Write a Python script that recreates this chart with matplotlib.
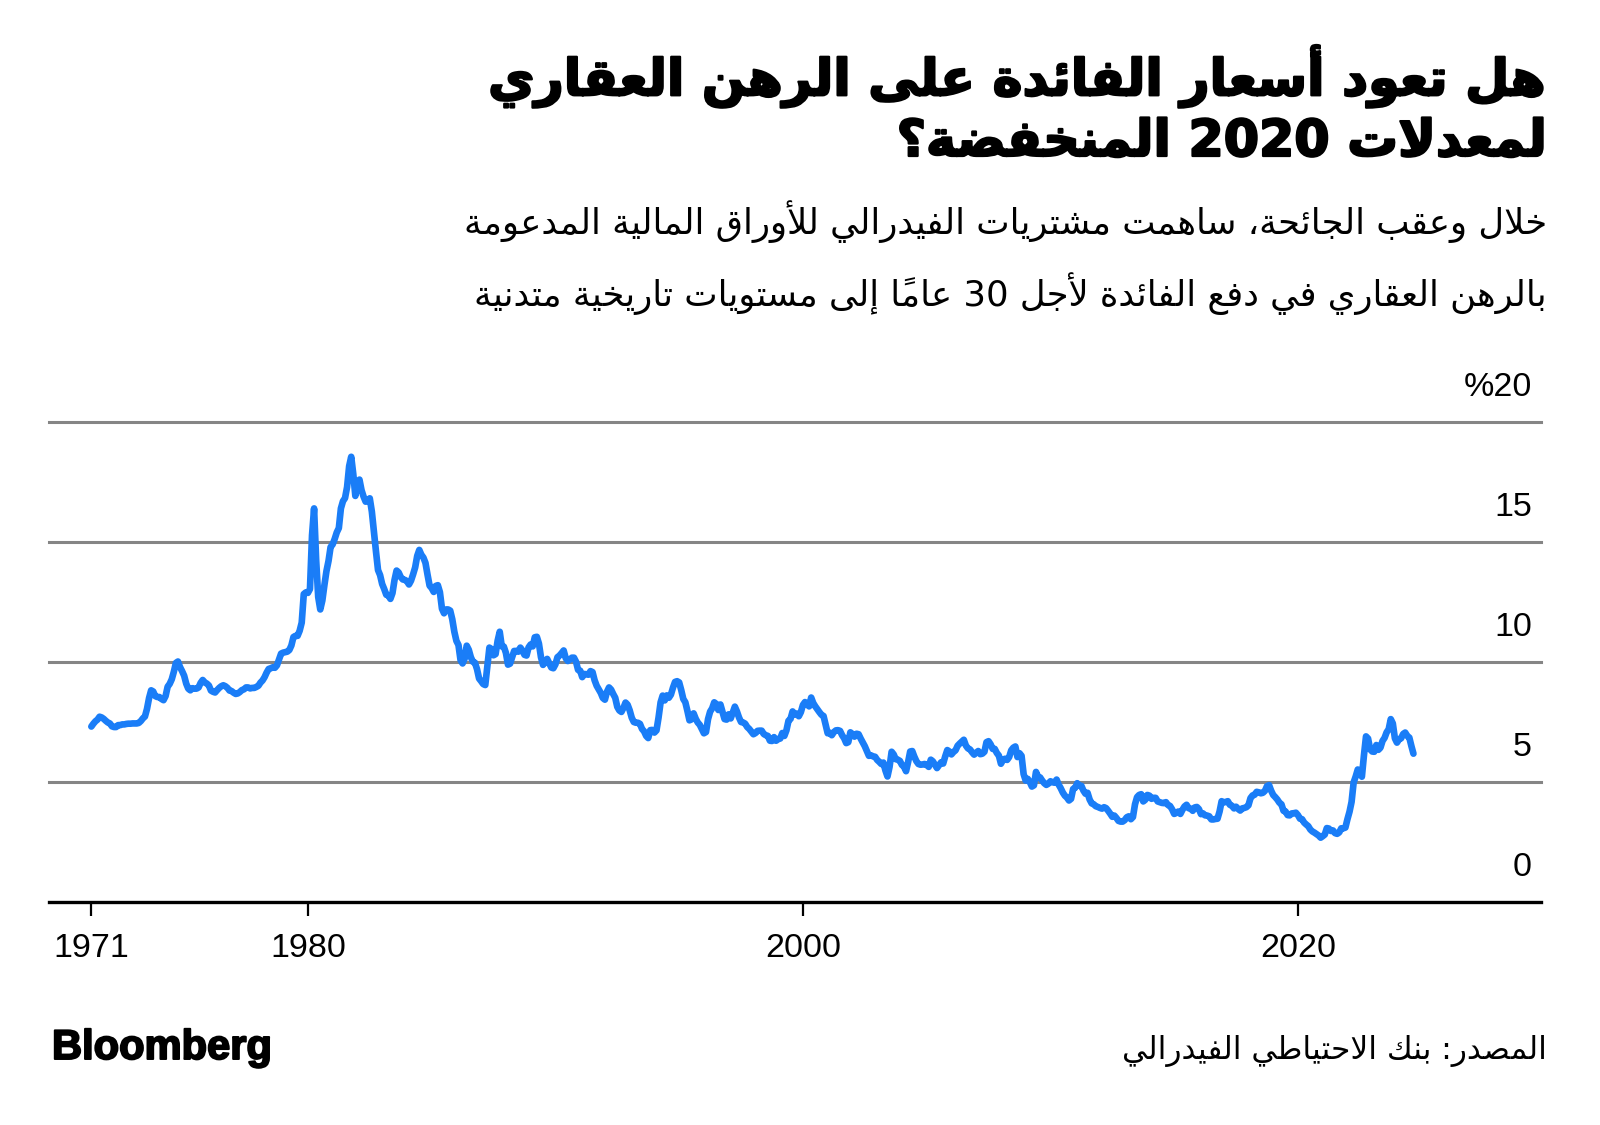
import pandas as pd
import matplotlib
matplotlib.use('Agg')
import matplotlib.pyplot as plt
import matplotlib.transforms as mtransforms
import matplotlib.patheffects as pe

# --- text -----------------------------------------------------------------
title_lines = ['هل تعود أسعار الفائدة على الرهن العقاري',
               'لمعدلات 2020 المنخفضة؟']
subtitle_lines = ['خلال وعقب الجائحة، ساهمت مشتريات الفيدرالي للأوراق المالية المدعومة',
                  'بالرهن العقاري في دفع الفائدة لأجل 30 عاماً إلى مستويات تاريخية متدنية']
source_text = 'المصدر: بنك الاحتياطي الفيدرالي'

# --- data: 30-year mortgage rate, monthly average, % (Apr 1971 - Sep 2024) ---
start_month = '1971-04-01'
rates_1970s = [7.31, 7.43, 7.53, 7.60, 7.72, 7.69, 7.63, 7.55, 7.48,
               7.44, 7.32, 7.29, 7.29, 7.37, 7.37, 7.40, 7.40, 7.42, 7.43, 7.43, 7.44,
               7.44, 7.44, 7.46, 7.54, 7.65, 7.73, 8.05, 8.50, 8.82, 8.77, 8.58, 8.54,
               8.54, 8.46, 8.41, 8.58, 8.97, 9.09, 9.28, 9.59, 9.96, 10.02, 9.79, 9.62,
               9.43, 9.10, 8.89, 8.82, 8.91, 8.89, 8.89, 8.94, 9.13, 9.25, 9.15, 9.10,
               9.02, 8.81, 8.76, 8.73, 8.83, 8.92, 8.99, 9.03, 8.99, 8.92, 8.81, 8.79,
               8.72, 8.67, 8.69, 8.75, 8.83, 8.86, 8.94, 8.94, 8.90, 8.92, 8.92, 8.96,
               9.01, 9.14, 9.23, 9.37, 9.56, 9.71, 9.74, 9.78, 9.76, 9.86, 10.11, 10.35,
               10.39, 10.41, 10.43, 10.50, 10.69, 11.04, 11.09, 11.09, 11.30, 11.64, 12.83, 12.90]
rates_1980s = [12.88, 13.04, 15.28, 16.40, 14.26, 12.71, 12.19, 12.56, 13.20, 13.79, 14.21, 14.79,
               14.90, 15.13, 15.40, 15.58, 16.40, 16.70, 16.83, 17.29, 18.16, 18.55, 17.83, 16.92,
               17.40, 17.60, 17.16, 16.89, 16.68, 16.70, 16.82, 16.27, 15.43, 14.61, 13.83, 13.62,
               13.25, 13.04, 12.80, 12.78, 12.63, 12.87, 13.42, 13.81, 13.73, 13.54, 13.44, 13.42,
               13.37, 13.23, 13.39, 13.65, 13.94, 14.42, 14.67, 14.47, 14.35, 14.13, 13.64, 13.18,
               13.08, 12.92, 13.17, 13.20, 12.91, 12.22, 12.03, 12.19, 12.19, 12.14, 11.78, 11.26,
               10.88, 10.71, 10.08, 9.94, 10.14, 10.68, 10.51, 10.20, 10.01, 9.97, 9.70, 9.31,
               9.20, 9.08, 9.04, 9.83, 10.60, 10.54, 10.28, 10.33, 10.89, 11.26, 10.65, 10.64,
               10.38, 9.89, 9.93, 10.20, 10.46, 10.46, 10.43, 10.60, 10.48, 10.30, 10.27, 10.61,
               10.73, 10.65, 11.03, 11.05, 10.77, 10.20, 9.88, 9.99, 10.13, 9.95, 9.77, 9.74]
rates_1990s = [9.90, 10.20, 10.27, 10.37, 10.48, 10.16, 10.04, 10.10, 10.18, 10.18, 10.01, 9.67,
               9.64, 9.37, 9.50, 9.49, 9.47, 9.62, 9.58, 9.24, 9.01, 8.86, 8.71, 8.50,
               8.43, 8.76, 8.94, 8.85, 8.67, 8.51, 8.13, 7.98, 7.92, 8.09, 8.31, 8.22,
               7.99, 7.68, 7.50, 7.47, 7.47, 7.42, 7.21, 7.11, 6.92, 6.83, 7.16, 7.17,
               7.06, 7.15, 7.68, 8.32, 8.60, 8.40, 8.61, 8.51, 8.64, 8.93, 9.17, 9.20,
               9.15, 8.83, 8.46, 8.32, 7.96, 7.57, 7.61, 7.86, 7.64, 7.48, 7.38, 7.20,
               7.03, 7.08, 7.62, 7.93, 8.07, 8.32, 8.25, 8.00, 8.23, 7.92, 7.62, 7.60,
               7.82, 7.65, 7.90, 8.14, 7.94, 7.69, 7.50, 7.48, 7.43, 7.29, 7.21, 7.10,
               6.99, 7.04, 7.13, 7.14, 7.14, 7.00, 6.95, 6.92, 6.72, 6.71, 6.87, 6.72,
               6.79, 6.81, 7.04, 6.92, 7.15, 7.55, 7.63, 7.94, 7.82, 7.85, 7.74, 7.91]
rates_2000s = [8.21, 8.33, 8.24, 8.15, 8.52, 8.29, 8.15, 8.03, 7.91, 7.80, 7.75, 7.38,
               7.03, 7.05, 6.95, 7.08, 7.15, 7.16, 7.13, 6.95, 6.82, 6.62, 6.66, 7.07,
               7.00, 6.89, 7.01, 6.99, 6.81, 6.65, 6.49, 6.29, 6.09, 6.11, 6.07, 6.05,
               5.92, 5.84, 5.75, 5.81, 5.48, 5.23, 5.63, 6.26, 6.15, 5.95, 5.93, 5.88,
               5.71, 5.64, 5.45, 5.83, 6.27, 6.29, 6.06, 5.87, 5.75, 5.72, 5.73, 5.75,
               5.71, 5.63, 5.93, 5.86, 5.72, 5.58, 5.70, 5.82, 5.77, 6.07, 6.33, 6.27,
               6.15, 6.25, 6.32, 6.51, 6.60, 6.68, 6.76, 6.52, 6.40, 6.36, 6.24, 6.14,
               6.22, 6.29, 6.16, 6.18, 6.26, 6.66, 6.70, 6.57, 6.38, 6.38, 6.21, 6.10,
               5.76, 5.92, 5.97, 5.92, 6.04, 6.32, 6.43, 6.48, 6.04, 6.20, 6.09, 5.33,
               5.06, 5.13, 5.00, 4.81, 4.86, 5.42, 5.22, 5.19, 5.06, 4.95, 4.88, 4.93]
rates_2010s = [5.03, 4.99, 4.97, 5.10, 4.89, 4.74, 4.56, 4.43, 4.35, 4.23, 4.30, 4.71,
               4.76, 4.95, 4.84, 4.84, 4.64, 4.51, 4.55, 4.27, 4.11, 4.07, 3.99, 3.96,
               3.92, 3.89, 3.95, 3.91, 3.80, 3.68, 3.55, 3.60, 3.50, 3.38, 3.35, 3.35,
               3.41, 3.53, 3.57, 3.45, 3.54, 4.07, 4.37, 4.46, 4.49, 4.19, 4.26, 4.46,
               4.43, 4.30, 4.34, 4.34, 4.19, 4.16, 4.13, 4.12, 4.16, 4.04, 4.00, 3.86,
               3.67, 3.71, 3.77, 3.67, 3.84, 3.98, 4.05, 3.91, 3.89, 3.80, 3.94, 3.96,
               3.87, 3.66, 3.69, 3.61, 3.60, 3.57, 3.44, 3.44, 3.46, 3.47, 3.77, 4.20,
               4.15, 4.17, 4.20, 4.05, 4.01, 3.90, 3.97, 3.88, 3.81, 3.90, 3.92, 3.95,
               4.03, 4.33, 4.44, 4.47, 4.59, 4.57, 4.53, 4.55, 4.63, 4.83, 4.87, 4.64,
               4.46, 4.37, 4.27, 4.14, 4.07, 3.80, 3.77, 3.62, 3.61, 3.69, 3.70, 3.72]
rates_2020s = [3.62, 3.47, 3.45, 3.31, 3.23, 3.16, 3.02, 2.94, 2.89, 2.83, 2.77, 2.68,
               2.74, 2.81, 3.08, 3.06, 2.96, 2.98, 2.87, 2.84, 2.90, 3.07, 3.07, 3.10,
               3.45, 3.76, 4.17, 4.98, 5.23, 5.52, 5.41, 5.22, 6.11, 6.90, 6.81, 6.36,
               6.27, 6.26, 6.54, 6.34, 6.43, 6.71, 6.84, 7.07, 7.20, 7.62, 7.44, 6.82,
               6.64, 6.78, 6.82, 7.00, 7.06, 6.92, 6.85, 6.50, 6.18]

x_ticks = [1971.25, 1980, 2000, 2020]
x_tick_labels = ['1971', '1980', '2000', '2020']
y_ticks = [0, 5, 10, 15, 20]
y_tick_labels = ['0', '5', '10', '15', '%20']

# --- minimal Arabic shaping (presentation forms) + right-to-left ordering ---
FORMS = {'ء': (0xFE80, 1), 'آ': (0xFE81, 2), 'أ': (0xFE83, 2), 'ؤ': (0xFE85, 2),
         'إ': (0xFE87, 2), 'ئ': (0xFE89, 4), 'ا': (0xFE8D, 2), 'ب': (0xFE8F, 4),
         'ة': (0xFE93, 2), 'ت': (0xFE95, 4), 'ث': (0xFE99, 4), 'ج': (0xFE9D, 4),
         'ح': (0xFEA1, 4), 'خ': (0xFEA5, 4), 'د': (0xFEA9, 2), 'ذ': (0xFEAB, 2),
         'ر': (0xFEAD, 2), 'ز': (0xFEAF, 2), 'س': (0xFEB1, 4), 'ش': (0xFEB5, 4),
         'ص': (0xFEB9, 4), 'ض': (0xFEBD, 4), 'ط': (0xFEC1, 4), 'ظ': (0xFEC5, 4),
         'ع': (0xFEC9, 4), 'غ': (0xFECD, 4), 'ف': (0xFED1, 4), 'ق': (0xFED5, 4),
         'ك': (0xFED9, 4), 'ل': (0xFEDD, 4), 'م': (0xFEE1, 4), 'ن': (0xFEE5, 4),
         'ه': (0xFEE9, 4), 'و': (0xFEED, 2), 'ى': (0xFEEF, 2), 'ي': (0xFEF1, 4)}
LAM_ALEF = {'آ': 0xFEF5, 'أ': 0xFEF7, 'إ': 0xFEF9, 'ا': 0xFEFB}
MARKS = {chr(c) for c in range(0x064B, 0x0653)}


def joins_next(u):
    return u[0] != 'lig' and u[0] in FORMS and FORMS[u[0]][1] == 4


def joins_prev(u):
    return u[0] == 'lig' or (u[0] in FORMS and FORMS[u[0]][1] >= 2)


def rtl(text):
    units = []
    i = 0
    while i < len(text):
        ch = text[i]
        if ch in MARKS and units:
            units[-1][2] += ch
        elif ch == 'ل' and i + 1 < len(text) and text[i + 1] in LAM_ALEF:
            units.append(['lig', LAM_ALEF[text[i + 1]], ''])
            i += 1
        else:
            units.append([ch, None, ''])
        i += 1

    clusters = []
    for k, u in enumerate(units):
        prev_ok = k > 0 and joins_next(units[k - 1]) and joins_prev(u)
        next_ok = k + 1 < len(units) and joins_next(u) and joins_prev(units[k + 1])
        if u[0] == 'lig':
            g = chr(u[1] + (1 if prev_ok else 0))
        elif u[0] in FORMS:
            start, n = FORMS[u[0]]
            off = 3 if (prev_ok and next_ok) else 1 if prev_ok else 2 if next_ok else 0
            g = chr(start + off)
        else:
            g = u[0]
        clusters.append(g + u[2])

    # digits keep left-to-right order, everything else is reversed
    runs = []
    for c in clusters:
        is_num = c[0].isdigit()
        if runs and runs[-1][0] == is_num:
            runs[-1][1].append(c)
        else:
            runs.append([is_num, [c]])
    out = ''
    for is_num, cs in reversed(runs):
        out += ''.join(cs) if is_num else ''.join(reversed(cs))
    return out


# --- figure ---------------------------------------------------------------
W, H = 1600, 1125
fig = plt.figure(figsize=(W / 100, H / 100), dpi=100)
fig.patch.set_facecolor('white')

ar_font = 'DejaVu Sans'
num_font = ['Liberation Sans', 'DejaVu Sans']
heavy = [pe.withStroke(linewidth=1.6, foreground='black')]

for k, line in enumerate(title_lines):
    fig.text(1547 / W, 1 - (76 + 66 * k) / H, rtl(line), ha='right', va='center',
             fontsize=36.5, fontweight='bold', family=ar_font, path_effects=heavy)
for k, line in enumerate(subtitle_lines):
    fig.text(1547 / W, 1 - (222 + 72 * k) / H, rtl(line), ha='right', va='center',
             fontsize=25.5, family=ar_font)

rates = rates_1970s + rates_1980s + rates_1990s + rates_2000s + rates_2010s + rates_2020s
dates = pd.date_range(start_month, periods=len(rates), freq='MS')
years = dates.year + (dates.month - 1) / 12

left, right, bottom, top = 49, 1541, 902, 422
ax = fig.add_axes([left / W, 1 - bottom / H, (right - left) / W, (bottom - top) / H])
ax.set_xlim(1969.54, 2029.82)
ax.set_ylim(0, 20)
for s in ax.spines.values():
    s.set_visible(False)

for v in y_ticks[1:]:
    ax.axhline(v, color='#858585', lw=2.2, zorder=1, clip_on=False)
ax.axhline(0, color='black', lw=2.4, zorder=3, clip_on=False)

ax.plot(years, rates, color='#1a7df7', lw=4.8, zorder=4,
        solid_joinstyle='round', solid_capstyle='round')

ax.set_yticks([])
ax.set_xticks(x_ticks)
ax.set_xticklabels(x_tick_labels, family=num_font, fontsize=24.5)
ax.tick_params(axis='x', length=10, width=1.6, color='black', pad=12)

trans = mtransforms.blended_transform_factory(ax.transAxes, ax.transData)
for v, lab in zip(y_ticks, y_tick_labels):
    ax.text((1532 - left) / (right - left), v + 1.45, lab, transform=trans,
            ha='right', va='center', fontsize=24.5, family=num_font)

fig.text(52 / W, 1 - 1048 / H, 'Bloomberg', ha='left', va='center',
         fontsize=30, fontweight='bold', family=num_font,
         path_effects=[pe.withStroke(linewidth=1.4, foreground='black')])
fig.text(1547 / W, 1 - 1051 / H, rtl(source_text), ha='right', va='center',
         fontsize=22.5, family=ar_font)

fig.savefig('out.png', dpi=100, facecolor='white')
